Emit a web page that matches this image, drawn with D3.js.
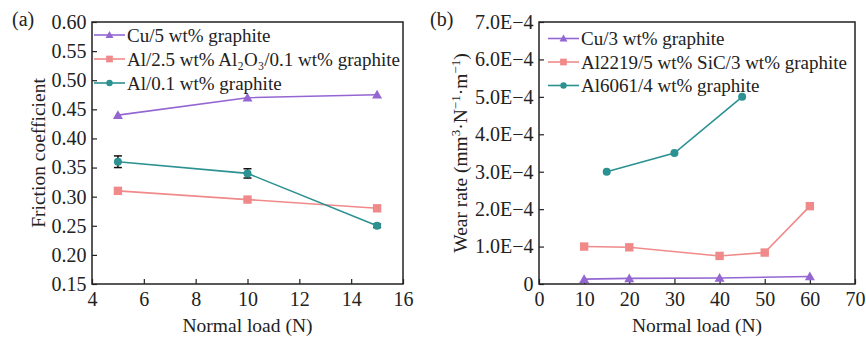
<!DOCTYPE html>
<html>
<head>
<meta charset="utf-8">
<script src="https://cdn.jsdelivr.net/npm/d3@7"></script>
<style>
  body { margin: 0; background: #fff; }
</style>
</head>
<body>
<svg id="chart" width="866" height="338"></svg>
<script>
// panel (a): friction coefficient
const loadA = [5, 10, 15];
const cu5 = [0.44, 0.47, 0.475];
const al25 = [0.31, 0.295, 0.28];
const al01 = [0.36, 0.34, 0.25];
const al01Err = [0.01, 0.008, 0.003];
const ticksAx = [4, 6, 8, 10, 12, 14, 16];
const ticksAy = [0.15, 0.20, 0.25, 0.30, 0.35, 0.40, 0.45, 0.50, 0.55, 0.60];

// panel (b): wear rate
const cu3Load = [10, 20, 40, 60];
const cu3 = [0.13e-4, 0.15e-4, 0.16e-4, 0.2e-4];
const al2219Load = [10, 20, 40, 50, 60];
const al2219 = [1.0e-4, 0.98e-4, 0.75e-4, 0.84e-4, 2.08e-4];
const al6061Load = [15, 30, 45];
const al6061 = [3.0e-4, 3.5e-4, 5.0e-4];
const ticksBx = [0, 10, 20, 30, 40, 50, 60, 70];
const ticksBy = [0, 1e-4, 2e-4, 3e-4, 4e-4, 5e-4, 6e-4, 7e-4];

const purple = "#9466d2", pink = "#f08a8a", teal = "#2b9191";
const FONT = '"Liberation Serif"';

const svg = d3.select("#chart");

function panel(o) {
  const x = d3.scaleLinear().domain(o.xd).range([o.l, o.r]);
  const y = d3.scaleLinear().domain(o.yd).range([o.b, o.t]);
  const g = svg.append("g");

  g.append("g").attr("transform", `translate(0,${o.b})`)
    .call(d3.axisBottom(x).tickValues(o.xt).tickSize(-5).tickPadding(8).tickFormat(d3.format("d")))
    .call(a => a.select(".domain").remove());
  g.append("g").attr("transform", `translate(${o.l},0)`)
    .call(d3.axisLeft(y).tickValues(o.yt).tickSize(-5).tickPadding(5.5).tickFormat(o.yf))
    .call(a => a.select(".domain").remove());
  g.selectAll(".tick text").style("font-size", "20px").style("font-family", FONT).attr("fill", "#222");
  g.selectAll(".tick line").attr("stroke", "#222").attr("stroke-width", 1.2);

  g.append("rect").attr("x", o.l).attr("y", o.t).attr("width", o.r - o.l).attr("height", o.b - o.t)
    .attr("fill", "none").attr("stroke", "#222").attr("stroke-width", 1.5);

  o.series.forEach(s => {
    const pts = s.x.map((v, i) => [x(v), y(s.y[i])]);
    if (s.err) {
      s.x.forEach((v, i) => {
        const y0 = y(s.y[i] - s.err[i]), y1 = y(s.y[i] + s.err[i]), cx = x(v);
        g.append("line").attr("x1", cx).attr("x2", cx).attr("y1", y0).attr("y2", y1).attr("stroke", "#111").attr("stroke-width", 1.5);
        [y0, y1].forEach(yy => g.append("line").attr("x1", cx - 4).attr("x2", cx + 4).attr("y1", yy).attr("y2", yy).attr("stroke", "#111").attr("stroke-width", 1.5));
      });
    }
    g.append("path").attr("d", d3.line()(pts)).attr("fill", "none").attr("stroke", s.c).attr("stroke-width", 1.6);
    pts.forEach(p => marker(g, s.m, p[0], p[1], s.c));
  });

  // legend
  o.series.forEach((s, i) => {
    const ly = o.ly + i * o.ls;
    g.append("line").attr("x1", o.lx).attr("x2", o.lx + 31).attr("y1", ly).attr("y2", ly).attr("stroke", s.c).attr("stroke-width", 1.6);
    marker(g, s.m, o.lx + 15.5, ly, s.c, 0.8);
    txt(g).attr("x", o.lx + 33).attr("y", ly + 6.5).style("font-size", "19px").text(s.label);
  });

  txt(svg).attr("x", o.plx).attr("y", 26).style("font-size", "20px").text(o.panel);
  txt(svg).attr("x", (o.l + o.r) / 2).attr("y", 332).attr("text-anchor", "middle").style("font-size", "19.5px").text("Normal load (N)");
  txt(svg).attr("transform", `translate(${o.ylx},${(o.t + o.b) / 2}) rotate(-90)`)
    .attr("text-anchor", "middle").style("font-size", "19.5px").html(o.ylabel);
}

function txt(sel) {
  return sel.append("text").style("font-family", FONT).attr("fill", "#222");
}

function marker(g, m, cx, cy, c, k = 1) {
  if (m === "tri") {
    const s = 5 * k;
    g.append("path").attr("d", `M${cx},${cy - s}L${cx + s},${cy + s * 0.75}L${cx - s},${cy + s * 0.75}Z`).attr("fill", c);
  } else if (m === "sq") {
    const s = 4.2 * k;
    g.append("rect").attr("x", cx - s).attr("y", cy - s).attr("width", 2 * s).attr("height", 2 * s).attr("fill", c);
  } else {
    g.append("circle").attr("cx", cx).attr("cy", cy).attr("r", 4 * k).attr("fill", c);
  }
}

panel({
  panel: "(a)", plx: 12, l: 92, r: 403, t: 22, b: 284,
  xd: [4, 16], yd: [0.15, 0.60], xt: ticksAx, yt: ticksAy, yf: d3.format(".2f"),
  lx: 94, ly: 35, ls: 24, ylx: 45,
  ylabel: "Friction coefficient",
  series: [
    { x: loadA, y: cu5, c: purple, m: "tri", label: "Cu/5 wt% graphite" },
    { x: loadA, y: al25, c: pink, m: "sq", label: "Al/2.5 wt% Al\u2082O\u2083/0.1 wt% graphite" },
    { x: loadA, y: al01, err: al01Err, c: teal, m: "circ", label: "Al/0.1 wt% graphite" }
  ]
});

panel({
  panel: "(b)", plx: 430, l: 539, r: 855, t: 22, b: 284,
  xd: [0, 70], yd: [0, 7e-4], xt: ticksBx, yt: ticksBy,
  yf: d => d === 0 ? "0" : (d * 1e4).toFixed(1) + "E\u22124",
  lx: 548, ly: 38.5, ls: 23.5, ylx: 467,
  ylabel: 'Wear rate (mm<tspan baseline-shift="super" font-size="13">3</tspan>·N<tspan baseline-shift="super" font-size="13">\u22121</tspan>·m<tspan baseline-shift="super" font-size="13">\u22121</tspan>)',
  series: [
    { x: cu3Load, y: cu3, c: purple, m: "tri", label: "Cu/3 wt% graphite" },
    { x: al2219Load, y: al2219, c: pink, m: "sq", label: "Al2219/5 wt% SiC/3 wt% graphite" },
    { x: al6061Load, y: al6061, c: teal, m: "circ", label: "Al6061/4 wt% graphite" }
  ]
});
</script>
</body>
</html>
